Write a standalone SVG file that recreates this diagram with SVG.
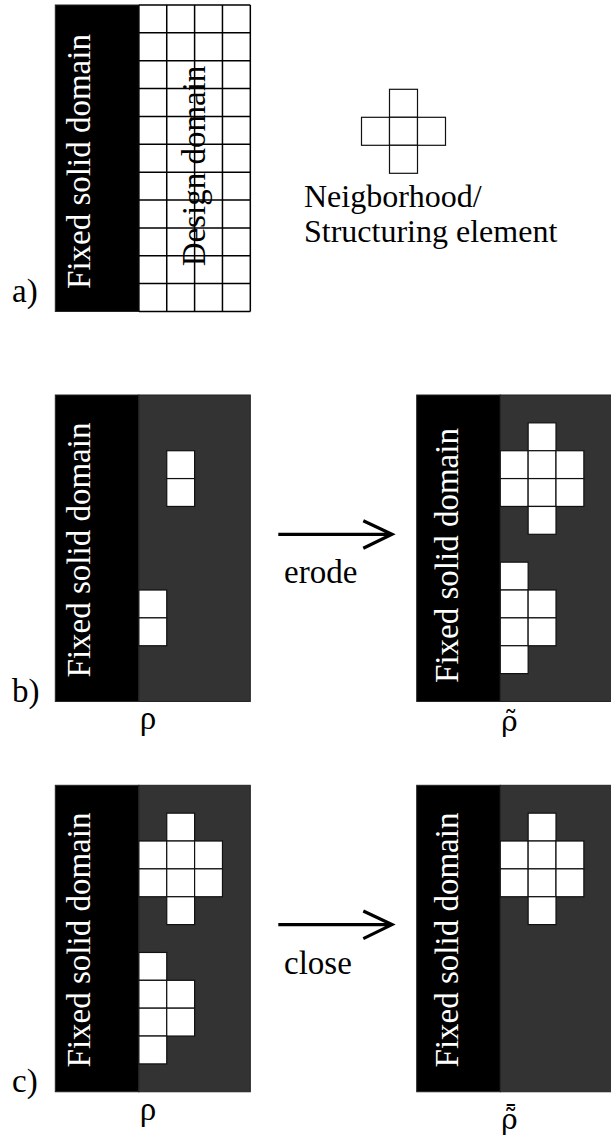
<svg xmlns="http://www.w3.org/2000/svg" width="611" height="1140" viewBox="0 0 611 1140">
<style>
text{font-family:"Liberation Serif","Times New Roman",serif;font-size:33px;fill:#000}
.wt{fill:#fff}
.acc{font-family:"DejaVu Serif",serif;font-size:28px}
.solid{fill:#000;stroke:#222;stroke-width:1}
.gray{fill:#333;stroke:#222;stroke-width:1}
.cell{fill:#fff;stroke:#111;stroke-width:1.2}
.grid{stroke:#000;stroke-width:1.5;fill:none}
.arr{stroke:#000;stroke-width:3.2;fill:none;stroke-linecap:butt}
</style>
<defs>
<g id="cross">
<rect class="cell" x="111.44" y="27.86" width="27.86" height="27.86"/>
<rect class="cell" x="83.58" y="55.72" width="27.86" height="27.86"/>
<rect class="cell" x="111.44" y="55.72" width="27.86" height="27.86"/>
<rect class="cell" x="139.3" y="55.72" width="27.86" height="27.86"/>
<rect class="cell" x="83.58" y="83.58" width="27.86" height="27.86"/>
<rect class="cell" x="111.44" y="83.58" width="27.86" height="27.86"/>
<rect class="cell" x="139.3" y="83.58" width="27.86" height="27.86"/>
<rect class="cell" x="111.44" y="111.44" width="27.86" height="27.86"/>
</g>
<g id="lower">
<rect class="cell" x="83.58" y="167.16" width="27.86" height="27.86"/>
<rect class="cell" x="83.58" y="195.02" width="27.86" height="27.86"/>
<rect class="cell" x="111.44" y="195.02" width="27.86" height="27.86"/>
<rect class="cell" x="83.58" y="222.88" width="27.86" height="27.86"/>
<rect class="cell" x="111.44" y="222.88" width="27.86" height="27.86"/>
<rect class="cell" x="83.58" y="250.74" width="27.86" height="27.86"/>
</g>
<g id="base">
<rect class="solid" x="0" y="0" width="83.58" height="306.46"/>
<rect class="gray" x="83.58" y="0" width="111.44" height="306.46"/>
</g>
</defs>

<g id="panel-a" transform="translate(55.3,5)">
<rect class="solid" x="0" y="0" width="83.58" height="306.46"/>
<rect x="83.58" y="0" width="111.44" height="306.46" fill="#fff"/>
<path class="grid" d="M83.58,0V306.46M111.44,0V306.46M139.3,0V306.46M167.16,0V306.46M195.02,0V306.46
M83.58,0H195.02M83.58,27.86H195.02M83.58,55.72H195.02M83.58,83.58H195.02M83.58,111.44H195.02M83.58,139.3H195.02M83.58,167.16H195.02M83.58,195.02H195.02M83.58,222.88H195.02M83.58,250.74H195.02M83.58,278.6H195.02M83.58,306.46H195.02"/>
<text class="wt" text-anchor="middle" transform="translate(34.7,156.5) rotate(-90)">Fixed solid domain</text>
<text text-anchor="middle" transform="translate(149.7,161) rotate(-90)">Design domain</text>
</g>
<text id="label-a" x="12" y="302">a)</text>

<g id="structuring-element">
<rect class="cell" x="389.5" y="89.3" width="28" height="28"/>
<rect class="cell" x="361.5" y="117.3" width="28" height="28"/>
<rect class="cell" x="389.5" y="117.3" width="28" height="28"/>
<rect class="cell" x="417.5" y="117.3" width="28" height="28"/>
<rect class="cell" x="389.5" y="145.3" width="28" height="28"/>
<text x="304" y="207" style="font-size:32px">Neigborhood/</text>
<text x="304" y="242" style="font-size:32px">Structuring element</text>
</g>

<g id="panel-b-rho" transform="translate(55.3,395)">
<use href="#base"/>
<rect class="cell" x="111.44" y="55.72" width="27.86" height="27.86"/>
<rect class="cell" x="111.44" y="83.58" width="27.86" height="27.86"/>
<rect class="cell" x="83.58" y="195.02" width="27.86" height="27.86"/>
<rect class="cell" x="83.58" y="222.88" width="27.86" height="27.86"/>
<text class="wt" text-anchor="middle" transform="translate(34.7,155) rotate(-90)">Fixed solid domain</text>
</g>
<text id="label-b" x="12" y="701.5">b)</text>
<text id="rho-b" x="148" y="729" text-anchor="middle">ρ</text>

<g id="panel-b-rho-tilde" transform="translate(416.7,395)">
<use href="#base"/>
<use href="#cross"/>
<use href="#lower"/>
<text class="wt" text-anchor="middle" transform="translate(41.3,160.5) rotate(-90)">Fixed solid domain</text>
</g>
<text id="rho-tilde-b" class="acc" x="509.5" y="731" text-anchor="middle">ρ̃</text>

<g id="panel-c-rho" transform="translate(55.3,785.3)">
<use href="#base"/>
<use href="#cross"/>
<use href="#lower"/>
<text class="wt" text-anchor="middle" transform="translate(34.7,154.7) rotate(-90)">Fixed solid domain</text>
</g>
<text id="label-c" x="12" y="1091.5">c)</text>
<text id="rho-c" x="148" y="1120" text-anchor="middle">ρ</text>

<g id="panel-c-rho-bar" transform="translate(416.7,785.3)">
<use href="#base"/>
<use href="#cross"/>
<text class="wt" text-anchor="middle" transform="translate(41.3,154.7) rotate(-90)">Fixed solid domain</text>
</g>
<text id="rho-tilde-bar-c" class="acc" x="509.5" y="1129" text-anchor="middle">ρ̃̄</text>

<g id="connectors">
<path class="arr" d="M278.3,534.3H392M363.3,520.7L392,534.3L363.3,548.3"/>
<text x="284" y="583.3">erode</text>
<path class="arr" d="M278.3,924.6H392M363.3,911L392,924.6L363.3,938.6"/>
<text x="284" y="973.6">close</text>
</g>
</svg>
